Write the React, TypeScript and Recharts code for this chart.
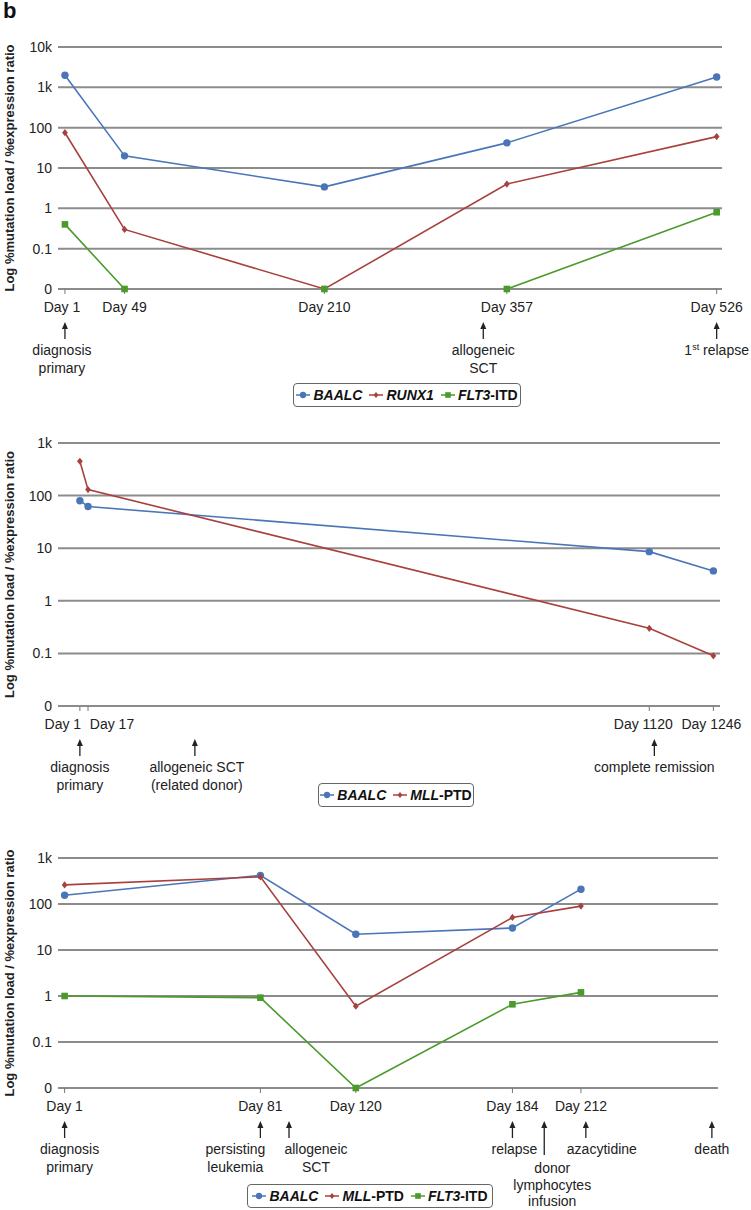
import React from 'react';
import { LineChart, Line, XAxis, YAxis, CartesianGrid, ReferenceDot } from 'recharts';

const FONT = '"Liberation Sans", Arial, Helvetica, sans-serif';
const BLUE = '#4a76b8';
const RED = '#a8413d';
const GREEN = '#4b9b2c';
const GRID = '#8c8c8c';
const INK = '#222';
const LOG_FLOOR = 0.01; // the axis value labelled "0"

const Y_LABEL = 'Log %mutation load / %expression ratio';
const yTicksBig = [0.01, 0.1, 1, 10, 100, 1000, 10000];
const yTicksSmall = [0.01, 0.1, 1, 10, 100, 1000];
const yTickLabels: Record<string, string> = {
  '0.01': '0', '0.1': '0.1', '1': '1', '10': '10', '100': '100', '1000': '1k', '10000': '10k',
};

// ---------- Panel 1 ----------
const p1Days = [1, 49, 210, 357, 526];
const p1Baalc = [2000, 20, 3.4, 42, 1800];
const p1Runx1 = [75, 0.3, 0, 4, 60];
const p1Flt3 = [0.4, 0, 0, 0, 0.8];
const p1Names = ['BAALC', 'RUNX1', 'FLT3-ITD'];
const p1AnnDays = [1, 338, 526];
const p1AnnTexts = [['diagnosis', 'primary'], ['allogeneic', 'SCT'], ['1st relapse']];

// ---------- Panel 2 ----------
const p2Days = [1, 17, 1120, 1246];
const p2Baalc = [80, 62, 8.6, 3.7];
const p2Mll = [450, 130, 0.3, 0.09];
const p2Names = ['BAALC', 'MLL-PTD'];
const p2AnnDays = [1, 227, 1130];
const p2AnnTexts = [['diagnosis', 'primary'], ['allogeneic SCT', '(related donor)'], ['complete remission']];

// ---------- Panel 3 ----------
const p3Days = [1, 81, 120, 184, 212];
const p3Baalc = [155, 420, 22, 30, 210];
const p3Mll = [260, 390, 0.6, 51, 90];
const p3Flt3 = [1.0, 0.92, 0, 0.66, 1.2];
const p3Names = ['BAALC', 'MLL-PTD', 'FLT3-ITD'];
const p3AnnDays = [1, 81, 92.7, 184, 197, 214, 265.5];
const p3AnnTexts = [
  ['diagnosis', 'primary'], ['persisting', 'leukemia'], ['allogeneic', 'SCT'], ['relapse'],
  ['donor', 'lymphocytes', 'infusion'], ['azacytidine'], ['death'],
];

// ---------- layout / style (not data) ----------
const p1Layout = { top: 0, height: 382, margin: { top: 47, right: 29, bottom: 68, left: 0 }, domain: [-4.6, 530.3] };
const p2Layout = { top: 400, height: 396, margin: { top: 43, right: 31, bottom: 65, left: 0 }, domain: [-42, 1259] };
const p3Layout = { top: 820, height: 390, margin: { top: 38, right: 33, bottom: 97, left: 0 }, domain: [-1.7, 268] };
const p1TickDx: Record<number, number> = { 1: -3 };
const p2TickDx: Record<number, number> = { 1: -17, 17: 24, 1120: -6, 1246: -2 };
const p3TickDx: Record<number, number> = {};
const p1AnnDx = [-3, 0, 0];
const p2AnnDx = [0, 2, 0];
const p3AnnDx = [5, -25, 27, 2, 8, 16, 0];
const p3AnnStem = [50, 50, 50, 50, 67, 50, 50];
const p3AnnTextTop = [61, 61, 61, 61, 80, 61, 61];
const p3AnnLineGap = [17.5, 17.5, 17.5, 17.5, 16.5, 17.5, 17.5];

const orFloor = (v: number) => (v <= 0 ? LOG_FLOOR : v);

const rows1 = p1Days.map((d, i) => ({ day: d, s0: orFloor(p1Baalc[i]), s1: orFloor(p1Runx1[i]), s2: orFloor(p1Flt3[i]) }));
const rows2 = p2Days.map((d, i) => ({ day: d, s0: orFloor(p2Baalc[i]), s1: orFloor(p2Mll[i]) }));
const rows3 = p3Days.map((d, i) => ({ day: d, s0: orFloor(p3Baalc[i]), s1: orFloor(p3Mll[i]), s2: orFloor(p3Flt3[i]) }));

const seriesStyle = [
  { color: BLUE, shape: 'circle' },
  { color: RED, shape: 'diamond' },
  { color: GREEN, shape: 'square' },
];

function Marker({ cx, cy, shape, color, scale = 1 }: any) {
  if (cx == null || cy == null) return null;
  if (shape === 'circle') return <circle cx={cx} cy={cy} r={3.7 * scale} fill={color} />;
  if (shape === 'diamond') {
    const s = 3.6 * scale;
    return <polygon points={`${cx},${cy - s} ${cx + s * 0.8},${cy} ${cx},${cy + s} ${cx - s * 0.8},${cy}`} fill={color} />;
  }
  const h = 3.3 * scale;
  return <rect x={cx - h} y={cy - h} width={2 * h} height={2 * h} fill={color} />;
}

function renderLineText(line: string) {
  const m = line.match(/^(\d+)(st|nd|rd|th)(.*)$/);
  if (!m) return line;
  return [
    <tspan key="a">{m[1]}</tspan>,
    <tspan key="b" dy={-5} fontSize={9}>{m[2]}</tspan>,
    <tspan key="c" dy={5}>{m[3]}</tspan>,
  ];
}

function AnnShape(props: any) {
  const { cx, cy, lines, dx, stem, textTop, gap } = props;
  if (cx == null || cy == null) return null;
  const tip = cy + 33;
  return (
    <g>
      <line x1={cx} y1={tip + 5} x2={cx} y2={cy + stem} stroke={INK} strokeWidth={1.3} />
      <polygon points={`${cx},${tip} ${cx - 3},${tip + 7} ${cx + 3},${tip + 7}`} fill={INK} />
      <text textAnchor="middle" fontSize={14} fill={INK} fontFamily={FONT}>
        {lines.map((l: string, i: number) => (
          <tspan key={i} x={cx + dx} y={cy + textTop + i * gap + 5}>{renderLineText(l)}</tspan>
        ))}
      </text>
    </g>
  );
}

function DayTick(props: any) {
  const { x, y, payload, offsets } = props;
  const dx = offsets[payload.value] ?? 0;
  return (
    <text x={x + dx} y={y} dy="0.71em" textAnchor="middle" fontSize={14} fill={INK} fontFamily={FONT}>
      {`Day ${payload.value}`}
    </text>
  );
}

function Panel({ layout, rows, days, nSeries, yTicks, tickDx, annDays, annTexts, annDx, annStem, annTextTop, annGap }: any) {
  const yMax = yTicks[yTicks.length - 1];
  return (
    <div style={{ position: 'absolute', left: 0, top: layout.top }}>
      <LineChart width={751} height={layout.height} data={rows} margin={layout.margin}>
        <CartesianGrid horizontal vertical={false} stroke={GRID} strokeWidth={2} />
        <XAxis
          dataKey="day"
          type="number"
          domain={layout.domain}
          ticks={days}
          interval={0}
          height={25}
          axisLine={{ stroke: GRID, strokeWidth: 2 }}
          tickLine={{ stroke: '#777', strokeWidth: 1 }}
          tickSize={5}
          tickMargin={8}
          tick={(p: any) => <DayTick {...p} offsets={tickDx} />}
        />
        <YAxis
          type="number"
          scale="log"
          domain={[LOG_FLOOR, yMax]}
          ticks={yTicks}
          interval={0}
          width={58}
          axisLine={false}
          tickLine={false}
          tickSize={4}
          tickMargin={2}
          tickFormatter={(v: number) => yTickLabels[String(v)] ?? String(v)}
          tick={{ fontSize: 14, fill: INK, fontFamily: FONT }}
          label={{
            value: Y_LABEL,
            angle: -90,
            position: 'insideLeft',
            offset: 9,
            fontSize: 13,
            fontWeight: 'bold',
            fill: INK,
            fontFamily: FONT,
            style: { textAnchor: 'middle', fontWeight: 'bold', fontSize: 13, fill: INK, fontFamily: FONT },
          }}
        />
        {Array.from({ length: nSeries }).map((_, k) => (
          <Line
            key={k}
            dataKey={`s${k}`}
            stroke={seriesStyle[k].color}
            strokeWidth={1.6}
            isAnimationActive={false}
            dot={(p: any) => <Marker key={p.key ?? `${k}-${p.index}`} cx={p.cx} cy={p.cy} shape={seriesStyle[k].shape} color={seriesStyle[k].color} />}
            activeDot={false}
          />
        ))}
        {annDays.map((d: number, i: number) => (
          <ReferenceDot
            key={`ann-${i}`}
            x={d}
            y={LOG_FLOOR}
            r={0}
            ifOverflow="visible"
            shape={(p: any) => (
              <AnnShape
                cx={p.cx}
                cy={p.cy}
                lines={annTexts[i]}
                dx={annDx[i]}
                stem={annStem ? annStem[i] : 50}
                textTop={annTextTop ? annTextTop[i] : 61}
                gap={annGap ? annGap[i] : 17.5}
              />
            )}
          />
        ))}
      </LineChart>
    </div>
  );
}

function LegendBox({ left, top, width, names }: any) {
  return (
    <div
      style={{
        position: 'absolute', left, top, width, height: 24, boxSizing: 'border-box',
        border: '1px solid #666', borderRadius: 4, background: '#fff',
        display: 'flex', alignItems: 'center', justifyContent: 'center', gap: 7,
        fontFamily: FONT, fontWeight: 'bold', fontSize: 14, color: '#111', whiteSpace: 'nowrap',
      }}
    >
      {names.map((n: string, k: number) => {
        const idx = n.indexOf('-');
        const gene = idx >= 0 ? n.slice(0, idx) : n;
        const rest = idx >= 0 ? n.slice(idx) : '';
        return (
          <span key={n} style={{ display: 'flex', alignItems: 'center', gap: 3 }}>
            <svg width={14} height={10}>
              <line x1={0} y1={5} x2={14} y2={5} stroke={seriesStyle[k].color} strokeWidth={1.5} />
              <Marker cx={7} cy={5} shape={seriesStyle[k].shape} color={seriesStyle[k].color} scale={0.85} />
            </svg>
            <span>
              <i>{gene}</i>
              {rest}
            </span>
          </span>
        );
      })}
    </div>
  );
}

export default function App() {
  return (
    <div style={{ position: 'absolute', left: 0, top: 0, width: 751, height: 1210, background: '#fff', fontFamily: FONT }}>
      <Panel
        layout={p1Layout} rows={rows1} days={p1Days} nSeries={3} yTicks={yTicksBig} tickDx={p1TickDx}
        annDays={p1AnnDays} annTexts={p1AnnTexts} annDx={p1AnnDx}
      />
      <Panel
        layout={p2Layout} rows={rows2} days={p2Days} nSeries={2} yTicks={yTicksSmall} tickDx={p2TickDx}
        annDays={p2AnnDays} annTexts={p2AnnTexts} annDx={p2AnnDx}
      />
      <Panel
        layout={p3Layout} rows={rows3} days={p3Days} nSeries={3} yTicks={yTicksSmall} tickDx={p3TickDx}
        annDays={p3AnnDays} annTexts={p3AnnTexts} annDx={p3AnnDx} annStem={p3AnnStem} annTextTop={p3AnnTextTop}
        annGap={p3AnnLineGap}
      />
      <div style={{ position: 'absolute', left: 3, top: -1, fontSize: 22, fontWeight: 'bold', lineHeight: '24px', color: '#111' }}>b</div>
      <LegendBox left={293} top={383} width={228} names={p1Names} />
      <LegendBox left={318} top={783} width={156} names={p2Names} />
      <LegendBox left={247} top={1184} width={246} names={p3Names} />
    </div>
  );
}
